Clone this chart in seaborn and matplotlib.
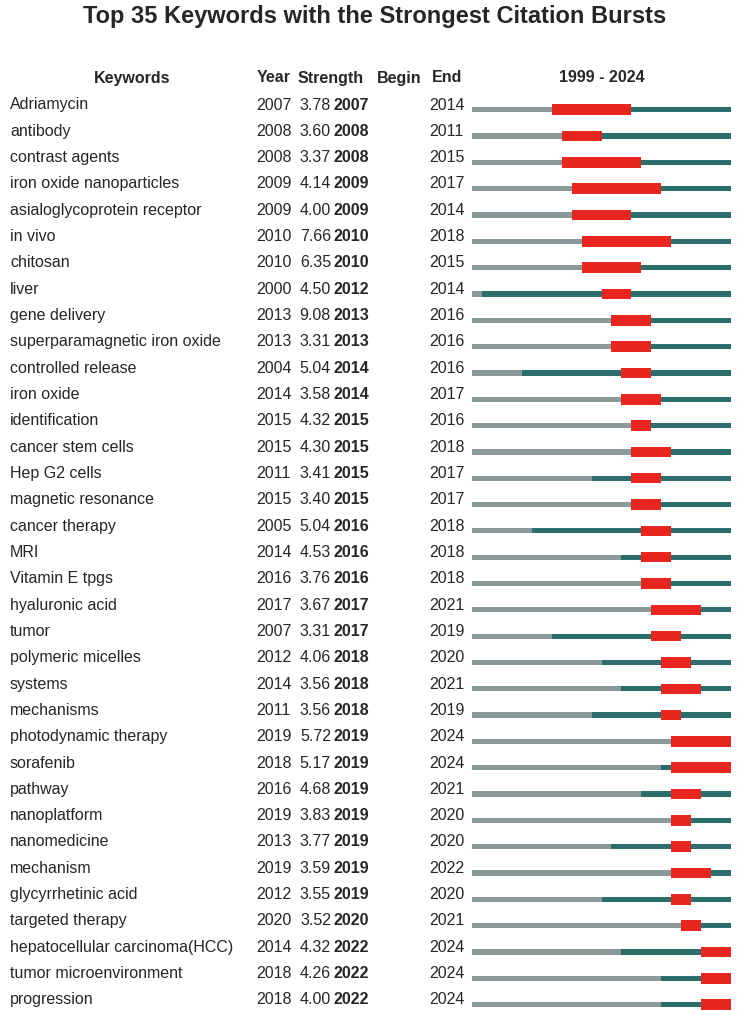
import matplotlib
matplotlib.use("Agg")
import matplotlib.pyplot as plt
import seaborn as sns

sns.set_theme(style="white")
plt.rcParams["font.family"] = "Liberation Sans"

keywords = ["Adriamycin","antibody","contrast agents","iron oxide nanoparticles","asialoglycoprotein receptor",
 "in vivo","chitosan","liver","gene delivery","superparamagnetic iron oxide","controlled release","iron oxide",
 "identification","cancer stem cells","Hep G2 cells","magnetic resonance","cancer therapy","MRI","Vitamin E tpgs",
 "hyaluronic acid","tumor","polymeric micelles","systems","mechanisms","photodynamic therapy","sorafenib","pathway",
 "nanoplatform","nanomedicine","mechanism","glycyrrhetinic acid","targeted therapy","hepatocellular carcinoma(HCC)",
 "tumor microenvironment","progression"]
years = [2007,2008,2008,2009,2009,2010,2010,2000,2013,2013,2004,2014,2015,2015,2011,2015,2005,2014,2016,2017,2007,
 2012,2014,2011,2019,2018,2016,2019,2013,2019,2012,2020,2014,2018,2018]
strength = [3.78,3.60,3.37,4.14,4.00,7.66,6.35,4.50,9.08,3.31,5.04,3.58,4.32,4.30,3.41,3.40,5.04,4.53,3.76,3.67,3.31,
 4.06,3.56,3.56,5.72,5.17,4.68,3.83,3.77,3.59,3.55,3.52,4.32,4.26,4.00]
begin = [2007,2008,2008,2009,2009,2010,2010,2012,2013,2013,2014,2014,2015,2015,2015,2015,2016,2016,2016,2017,2017,
 2018,2018,2018,2019,2019,2019,2019,2019,2019,2019,2020,2022,2022,2022]
end = [2014,2011,2015,2017,2014,2018,2015,2014,2016,2016,2016,2017,2016,2018,2017,2017,2018,2018,2018,2021,2019,
 2020,2021,2019,2024,2024,2021,2020,2020,2022,2020,2021,2024,2024,2024]
start_year, end_year = 1999, 2024

W, H = 750, 1011
fig = plt.figure(figsize=(W/100, H/100), dpi=100)
y0, step = 105, 26.32
ytop, ybot = -y0/step, (H - y0)/step

ax = fig.add_axes([0, 0, 1, 1])
ax.set_xlim(0, W); ax.set_ylim(ybot, ytop); ax.axis("off")
axb = fig.add_axes([472/W, 0, 259/W, 1])
axb.set_xlim(start_year, end_year + 1); axb.set_ylim(ybot, ytop); axb.axis("off")

ax.text(W/2, (17 - y0)/step, "Top 35 Keywords with the Strongest Citation Bursts", ha="center", va="center",
        fontsize=17, fontweight="bold")
hy = (78 - y0)/step
fs = 11.5
for x, t, ha in [(132, "Keywords", "center"), (257, "Year", "left"), (298, "Strength", "left"),
                 (377, "Begin", "left"), (432, "End", "left"), (602, "1999 - 2024", "center")]:
    ax.text(x, hy, t, ha=ha, va="center", fontsize=fs, fontweight="bold")

for i in range(len(keywords)):
    ax.text(10, i, keywords[i], ha="left", va="center", fontsize=fs)
    ax.text(256, i, str(years[i]), ha="left", va="center", fontsize=fs)
    ax.text(331, i, f"{strength[i]:.2f}", ha="right", va="center", fontsize=fs)
    ax.text(334, i, str(begin[i]), ha="left", va="center", fontsize=fs, fontweight="bold")
    ax.text(429, i, str(end[i]), ha="left", va="center", fontsize=fs)
    yb = i + 0.18
    axb.barh(yb, years[i] - start_year, left=start_year, height=0.2, color="#8A9A9A", linewidth=0)
    axb.barh(yb, end_year + 1 - years[i], left=years[i], height=0.2, color="#2C6E6C", linewidth=0)
    axb.barh(yb, end[i] + 1 - begin[i], left=begin[i], height=0.4, color="#E8251F", linewidth=0)

fig.savefig("out.png", dpi=100, facecolor="white")
